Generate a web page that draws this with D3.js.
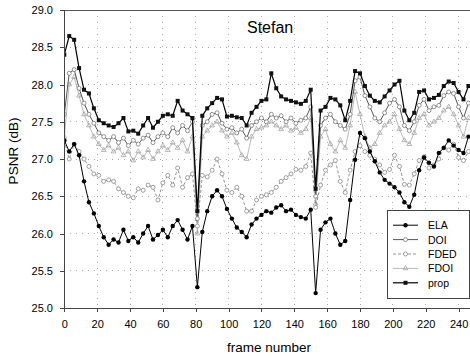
<!doctype html>
<html>
<head>
  <style type="text/css">
    body { margin: 0; background: #fff; }
    svg { display: block; background: #fff; }
    text { font-family: "Liberation Sans", Arial, sans-serif; fill: #000; }
    .axis path, .axis line { fill: none; stroke: #444; shape-rendering: crispEdges; }
    .axis text { font-size: 11px; }
    .grid line { stroke: #aaa; stroke-dasharray: 1,5; shape-rendering: crispEdges; }
  </style>
  <title>Stefan PSNR</title>
</head>
<body>
<svg class="chart"></svg>

<script type="text/javascript" src="https://cdnjs.cloudflare.com/ajax/libs/d3/7.8.5/d3.min.js"></script>
<script type="text/javascript">

var outerWidth = 470,
    outerHeight = 360,
    margin = { top: 10, right: -5, bottom: 52, left: 64 },
    width = outerWidth - margin.left - margin.right,
    height = outerHeight - margin.top - margin.bottom;

// frame numbers (sampled every 3rd frame)
var frames = [0,3,6,9,12,15,18,21,24,27,30,33,36,39,42,45,48,51,54,57,60,63,66,69,72,75,78,81,84,87,
  90,93,96,99,102,105,108,111,114,117,120,123,126,129,132,135,138,141,144,147,150,153,156,159,162,165,
  168,171,174,177,180,183,186,189,192,195,198,201,204,207,210,213,216,219,222,225,228,231,234,237,240,243,246];

var ela = [27.25,27.1,27.2,27.05,26.7,26.42,26.27,26.1,25.95,25.85,
  25.92,25.88,26.05,25.9,25.95,25.88,26.0,26.1,25.92,25.98,
  26.05,25.95,26.1,26.18,26.05,25.92,26.1,25.28,26.02,26.3,
  26.5,26.58,26.5,26.33,26.2,26.08,26.02,25.95,26.12,26.2,
  26.25,26.3,26.28,26.35,26.38,26.3,26.32,26.25,26.22,26.2,
  26.32,25.2,26.05,26.15,26.2,26.0,25.85,25.9,26.45,26.99,
  27.35,27.28,27.1,26.97,26.82,26.72,26.67,26.62,26.55,26.42,
  26.36,26.52,26.85,27.02,26.95,26.9,27.08,27.15,27.25,27.18,
  27.12,27.08,27.3];

var doi = [27.6,28.15,28.2,27.95,27.75,27.6,27.48,27.35,27.3,27.25,
  27.3,27.22,27.28,27.18,27.25,27.2,27.28,27.32,27.22,27.3,
  27.35,27.3,27.42,27.35,27.45,27.38,27.5,26.2,27.45,27.5,
  27.6,27.62,27.48,27.4,27.42,27.35,27.4,27.28,27.45,27.5,
  27.55,27.5,27.6,27.55,27.58,27.5,27.55,27.48,27.52,27.55,
  27.7,26.5,27.45,27.55,27.6,27.5,27.45,27.4,27.6,28.05,
  28.1,27.85,27.7,27.55,27.5,27.62,27.75,27.8,27.7,27.45,
  27.38,27.5,27.72,27.8,27.65,27.7,27.72,27.85,27.9,27.88,
  27.7,27.55,27.75];

var fded = [27.25,27.0,27.2,27.1,27.0,26.9,26.8,26.78,26.7,26.72,
  26.7,26.6,26.55,26.5,26.48,26.6,26.58,26.65,26.62,26.45,
  26.68,26.78,26.65,26.88,26.62,26.75,26.8,26.1,26.78,26.76,
  26.85,27.0,26.8,26.58,26.55,26.62,26.5,26.3,26.3,26.45,
  26.5,26.52,26.55,26.62,26.7,26.75,26.8,26.86,26.85,26.9,
  27.08,26.35,26.65,26.85,26.92,26.98,26.7,26.55,26.85,27.1,
  27.18,27.1,27.05,27.0,26.92,26.82,26.86,27.05,26.9,26.66,
  26.65,26.8,26.98,27.03,26.88,26.92,27.0,27.15,27.12,27.2,
  27.02,26.98,27.1];

var fdoi = [27.3,28.0,28.1,27.85,27.6,27.45,27.3,27.2,27.12,27.18,
  27.1,27.15,27.05,27.1,26.98,27.1,27.02,27.12,27.0,27.1,
  27.18,27.12,27.22,27.15,27.25,27.1,27.3,26.0,27.3,27.38,
  27.45,27.5,27.38,27.3,27.35,27.22,27.05,27.0,27.3,27.4,
  27.42,27.45,27.5,27.45,27.4,27.45,27.38,27.42,27.35,27.4,
  27.55,26.4,27.3,27.4,27.2,27.1,27.25,27.15,27.45,27.9,
  27.6,27.3,27.15,27.2,27.35,27.45,27.5,27.6,27.4,27.25,
  27.2,27.35,27.55,27.6,27.45,27.5,27.55,27.65,27.7,27.6,
  27.45,27.3,27.55];

var prop = [28.4,28.65,28.6,28.22,27.93,27.88,27.68,27.52,27.48,27.45,
  27.43,27.48,27.55,27.37,27.38,27.34,27.45,27.55,27.42,27.5,
  27.58,27.6,27.58,27.78,27.65,27.6,27.55,26.3,27.58,27.68,
  27.75,27.82,27.8,27.57,27.58,27.56,27.55,27.45,27.62,27.7,
  27.78,27.8,28.15,27.95,27.84,27.8,27.78,27.76,27.74,27.78,
  27.93,26.6,27.65,27.7,27.82,27.8,27.72,27.52,27.78,28.18,
  28.15,27.98,27.85,27.78,27.76,27.84,27.92,28.0,28.05,27.65,
  27.52,27.62,27.9,27.92,27.8,27.82,27.86,27.98,28.04,28.02,
  27.9,27.8,27.98];

var xTicks = [0,20,40,60,80,100,120,140,160,180,200,220,240];
var yTicks = [25.0,25.5,26.0,26.5,27.0,27.5,28.0,28.5,29.0];

// draw order: back to front
var series = [
  { name: "FDOI", values: fdoi, line: "#a8a8a8", lw: 0.8, dash: null, marker: "tri", mfill: "none", mstroke: "#999" },
  { name: "FDED", values: fded, line: "#888", lw: 0.9, dash: "3,2", marker: "circle", mfill: "#fff", mstroke: "#888" },
  { name: "DOI", values: doi, line: "#555", lw: 1, dash: null, marker: "circle", mfill: "#fff", mstroke: "#777" },
  { name: "ELA", values: ela, line: "#000", lw: 1, dash: null, marker: "dot", mfill: "#000", mstroke: "#000" },
  { name: "prop", values: prop, line: "#000", lw: 1.2, dash: null, marker: "square", mfill: "#111", mstroke: "#000" }
];
var legendOrder = ["ELA", "DOI", "FDED", "FDOI", "prop"];

var svg = d3.select(".chart")
  .attr("width", outerWidth)
  .attr("height", outerHeight);

var chart = svg.append("g")
  .attr("transform", "translate(" + margin.left + "," + margin.top + ")");

var x = d3.scaleLinear().domain([0, 250]).range([0.3, width]);
var y = d3.scaleLinear().domain([25, 29]).range([height, 0]);

// dotted grid
var grid = chart.append("g").attr("class", "grid");
grid.selectAll(".gx").data(xTicks.slice(1)).enter().append("line")
  .attr("x1", function(d) { return x(d); }).attr("x2", function(d) { return x(d); })
  .attr("y1", 0).attr("y2", height);
grid.selectAll(".gy").data(yTicks.slice(1, -1)).enter().append("line")
  .attr("x1", 0).attr("x2", width)
  .attr("y1", function(d) { return y(d); }).attr("y2", function(d) { return y(d); });

// frame top
chart.append("line")
  .attr("x1", 0).attr("x2", width).attr("y1", 0.5).attr("y2", 0.5)
  .attr("stroke", "#555").attr("stroke-width", 1.2);

chart.append("defs").append("clipPath").attr("id", "clip")
  .append("rect").attr("x", 0).attr("y", -2).attr("width", width).attr("height", height + 2);

var plot = chart.append("g").attr("clip-path", "url(#clip)");

var line = d3.line()
  .x(function(d, i) { return x(frames[i]); })
  .y(function(d) { return y(d); });

function drawMarker(sel, s, size) {
  if (s.marker === "dot") {
    sel.append("circle").attr("r", size * 0.55).attr("fill", s.mfill);
  } else if (s.marker === "circle") {
    sel.append("circle").attr("r", size * 0.5).attr("fill", s.mfill)
      .attr("stroke", s.mstroke).attr("stroke-width", 0.8);
  } else if (s.marker === "square") {
    sel.append("rect").attr("x", -size / 2).attr("y", -size / 2)
      .attr("width", size).attr("height", size).attr("fill", s.mfill);
  } else {
    sel.append("path").attr("d", d3.symbol().type(d3.symbolTriangle).size(size * 2.5)())
      .attr("fill", s.mfill).attr("stroke", s.mstroke).attr("stroke-width", 0.7);
  }
}

series.forEach(function(s) {
  var g = plot.append("g").attr("class", "series");
  g.append("path")
    .datum(s.values)
    .attr("fill", "none")
    .attr("stroke", s.line)
    .attr("stroke-width", s.lw)
    .attr("stroke-dasharray", s.dash)
    .attr("d", line);
  g.selectAll(".m").data(s.values).enter().append("g")
    .attr("transform", function(d, i) { return "translate(" + x(frames[i]) + "," + y(d) + ")"; })
    .each(function() { drawMarker(d3.select(this), s, 4); });
});

// axes
chart.append("g")
  .attr("class", "axis")
  .attr("transform", "translate(0," + height + ")")
  .call(d3.axisBottom(x).tickValues(xTicks).tickSize(4).tickPadding(8).tickFormat(d3.format("d")));

chart.append("g")
  .attr("class", "axis")
  .call(d3.axisLeft(y).tickValues(yTicks).tickSize(4).tickPadding(7).tickFormat(d3.format(".1f")));

// labels
svg.append("text")
  .attr("x", 247).attr("y", 33)
  .style("font-size", "16px")
  .text("Stefan");

svg.append("text")
  .attr("x", 269).attr("y", 352)
  .attr("text-anchor", "middle")
  .style("font-size", "13.5px")
  .text("frame number");

svg.append("text")
  .attr("transform", "translate(18,151) rotate(-90)")
  .attr("text-anchor", "middle")
  .style("font-size", "13.5px")
  .text("PSNR (dB)");

// legend
var legend = svg.append("g").attr("transform", "translate(387,210)");
legend.append("rect")
  .attr("x", 0.5).attr("y", 0.5).attr("width", 82).attr("height", 88)
  .attr("fill", "#fff").attr("stroke", "#444");

legendOrder.forEach(function(name, i) {
  var s = series.filter(function(d) { return d.name === name; })[0];
  var row = legend.append("g").attr("transform", "translate(0," + (15.2 + i * 14.4) + ")");
  row.append("line")
    .attr("x1", 6).attr("x2", 31).attr("y1", 0).attr("y2", 0)
    .attr("stroke", s.line).attr("stroke-width", s.lw)
    .attr("stroke-dasharray", s.dash);
  drawMarker(row.append("g").attr("transform", "translate(18.5,0)"), s, 4);
  row.append("text")
    .attr("x", 41).attr("y", 4)
    .style("font-size", "10.5px")
    .text(name);
});

</script>
</body>
</html>
